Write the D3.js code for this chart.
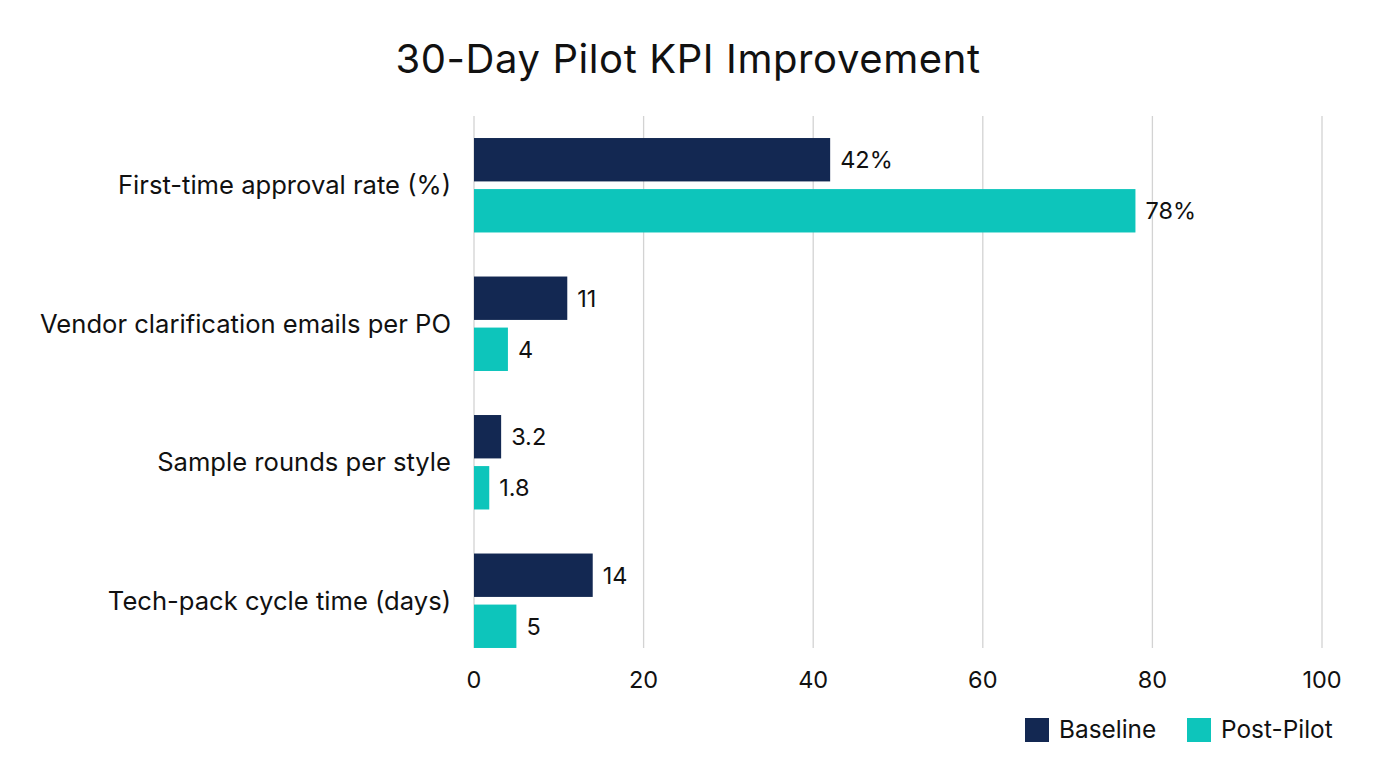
<!DOCTYPE html>
<html>
<head>
<meta charset="utf-8">
<script src="https://cdn.jsdelivr.net/npm/d3@7"></script>
<style>
  body { margin: 0; background: #fff; }
  svg text { font-family: Inter, "Noto Sans", sans-serif; fill: #111; }
</style>
</head>
<body>
<div id="chart"></div>
<script>
// data
var categories = ["First-time approval rate (%)", "Vendor clarification emails per PO", "Sample rounds per style", "Tech-pack cycle time (days)"];
var series = ["Baseline", "Post-Pilot"];
var baseline = [42, 11, 3.2, 14];
var postPilot = [78, 4, 1.8, 5];
var baselineLabels = ["42%", "11", "3.2", "14"];
var postPilotLabels = ["78%", "4", "1.8", "5"];
var xTicks = [0, 20, 40, 60, 80, 100];
var colors = ["#132852", "#0dc5bb"];

var W = 1376, H = 768;
var svg = d3.select("#chart").append("svg").attr("width", W).attr("height", H);

var x = d3.scaleLinear().domain([0, 100]).range([474, 1322]);
var y0 = d3.scaleBand().domain(categories).range([116, 670]).paddingInner(0.318).paddingOuter(0.159);
var y1 = d3.scaleBand().domain(series).range([0, y0.bandwidth()]).paddingInner(0.15);
var color = d3.scaleOrdinal().domain(series).range(colors);

// title
svg.append("text").attr("x", 688).attr("y", 73).attr("text-anchor", "middle")
  .style("font-size", "40px").style("letter-spacing", "0.6px").text("30-Day Pilot KPI Improvement");

// gridlines
svg.append("g").selectAll("line").data(xTicks).enter().append("line")
  .attr("x1", d => x(d)).attr("x2", d => x(d))
  .attr("y1", 116).attr("y2", 648)
  .attr("stroke", "#d3d3d3").attr("stroke-width", 1.3);

// tick labels
svg.append("g").selectAll("text").data(xTicks).enter().append("text")
  .attr("x", d => x(d)).attr("y", 688).attr("text-anchor", "middle")
  .style("font-size", "23.5px").text(d => d);

// category labels
svg.append("g").selectAll("text").data(categories).enter().append("text")
  .attr("x", 451).attr("y", d => y0(d) + y0.bandwidth() / 2 + 9)
  .attr("text-anchor", "end").style("font-size", "25.6px").text(d => d);

var rows = categories.map(function (c, i) {
  return { cat: c, vals: [
    { s: series[0], v: baseline[i], t: baselineLabels[i] },
    { s: series[1], v: postPilot[i], t: postPilotLabels[i] }
  ] };
});

var groups = svg.append("g").selectAll("g").data(rows).enter().append("g")
  .attr("transform", d => "translate(0," + y0(d.cat) + ")");

groups.selectAll("rect").data(d => d.vals).enter().append("rect")
  .attr("x", x(0)).attr("y", d => y1(d.s))
  .attr("width", d => x(d.v) - x(0)).attr("height", y1.bandwidth())
  .attr("fill", d => color(d.s));

groups.selectAll("text").data(d => d.vals).enter().append("text")
  .attr("x", d => x(d.v) + 10).attr("y", d => y1(d.s) + y1.bandwidth() / 2 + 8.5)
  .style("font-size", "23.5px").text(d => d.t);

// legend
var legend = svg.append("g");
var legendX = [1025, 1187];
series.forEach(function (s, i) {
  legend.append("rect").attr("x", legendX[i]).attr("y", 718).attr("width", 24).attr("height", 24).attr("fill", color(s));
  legend.append("text").attr("x", legendX[i] + 34).attr("y", 738).style("font-size", "24.4px").text(s);
});
</script>
</body>
</html>
